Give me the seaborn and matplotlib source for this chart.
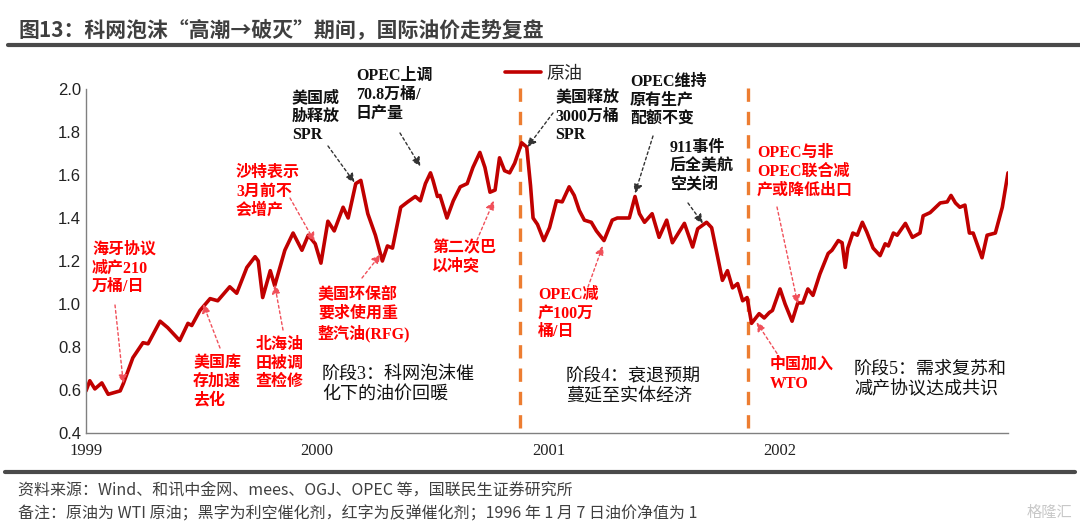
import pandas as pd
import numpy as np
import seaborn as sns
import matplotlib.pyplot as plt
import matplotlib.dates as mdates
from matplotlib.lines import Line2D

# WTI 原油净值 (1996-01-07 = 1)
dates = ["1999-01-01", "1999-01-07", "1999-01-15", "1999-01-26", "1999-02-05", "1999-02-24",
         "1999-03-01", "1999-03-16", "1999-04-01", "1999-04-09", "1999-04-28", "1999-05-10",
         "1999-05-29", "1999-06-11", "1999-06-17", "1999-06-30", "1999-07-16", "1999-07-28",
         "1999-08-16", "1999-08-27", "1999-09-12", "1999-09-25", "1999-09-30", "1999-10-07",
         "1999-10-19", "1999-10-26", "1999-11-11", "1999-11-24", "1999-12-08", "1999-12-18",
         "1999-12-29",
         "2000-01-07", "2000-01-18", "2000-01-28", "2000-02-11", "2000-02-19", "2000-03-02",
         "2000-03-10", "2000-03-21", "2000-04-02", "2000-04-13", "2000-04-21", "2000-04-29",
         "2000-05-12", "2000-05-23", "2000-06-04", "2000-06-12", "2000-06-20", "2000-06-28",
         "2000-07-02", "2000-07-09", "2000-07-13", "2000-07-24", "2000-08-03", "2000-08-14",
         "2000-08-25", "2000-09-03", "2000-09-14", "2000-09-22", "2000-09-30", "2000-10-08",
         "2000-10-15", "2000-10-23", "2000-10-31", "2000-11-08", "2000-11-19", "2000-11-27",
         "2000-12-03", "2000-12-07", "2000-12-14", "2000-12-24",
         "2001-01-02", "2001-01-13", "2001-01-22", "2001-02-02", "2001-02-10", "2001-02-18",
         "2001-02-26", "2001-03-09", "2001-03-17", "2001-03-29", "2001-04-11", "2001-04-19",
         "2001-05-08", "2001-05-17", "2001-05-24", "2001-06-01", "2001-06-13", "2001-06-24",
         "2001-07-06", "2001-07-15", "2001-08-03", "2001-08-16", "2001-08-24", "2001-09-07",
         "2001-09-15", "2001-10-02", "2001-10-10", "2001-10-18", "2001-10-26", "2001-11-03",
         "2001-11-10", "2001-11-17", "2001-11-29", "2001-12-07", "2001-12-15", "2001-12-20",
         "2002-01-01", "2002-01-09", "2002-01-20", "2002-01-29", "2002-02-06", "2002-02-14",
         "2002-02-22", "2002-03-05", "2002-03-18", "2002-03-24", "2002-04-03", "2002-04-09",
         "2002-04-14", "2002-04-18", "2002-04-26", "2002-05-03", "2002-05-11", "2002-05-18",
         "2002-05-28", "2002-06-08", "2002-06-16", "2002-06-21", "2002-06-29", "2002-07-05",
         "2002-07-18", "2002-07-29", "2002-08-10", "2002-08-15", "2002-08-26", "2002-09-11",
         "2002-09-22", "2002-09-28", "2002-10-05", "2002-10-12", "2002-10-20", "2002-10-27",
         "2002-11-02", "2002-11-16", "2002-11-24", "2002-12-07", "2002-12-18", "2002-12-27"]
values = [0.596, 0.643, 0.605, 0.633, 0.58, 0.596,
          0.63, 0.75, 0.82, 0.815, 0.92, 0.89,
          0.83, 0.91, 0.90, 0.97, 1.025, 1.015,
          1.08, 1.05, 1.17, 1.22, 1.20, 1.03,
          1.155, 1.085, 1.25, 1.33, 1.25, 1.32,
          1.28,
          1.19, 1.385, 1.34, 1.45, 1.40, 1.56,
          1.575, 1.42, 1.32, 1.20, 1.27, 1.26,
          1.45, 1.475, 1.50, 1.48, 1.56, 1.61,
          1.575, 1.50, 1.505, 1.40, 1.48, 1.545,
          1.56, 1.635, 1.705, 1.635, 1.52, 1.53,
          1.68, 1.62, 1.61, 1.655, 1.75, 1.73,
          1.55, 1.40, 1.37, 1.295,
          1.355, 1.48, 1.475, 1.545, 1.505, 1.435,
          1.39, 1.38, 1.34, 1.295, 1.39, 1.40,
          1.40, 1.50, 1.42, 1.38, 1.42, 1.31,
          1.39, 1.285, 1.375, 1.265, 1.35, 1.38,
          1.355, 1.11, 1.155, 1.075, 1.095, 1.015,
          1.03, 0.91, 0.955, 0.935, 0.96, 0.97,
          1.07, 1.00, 0.92, 1.005, 1.005, 1.07,
          1.04, 1.14, 1.235, 1.25, 1.295, 1.285,
          1.17, 1.26, 1.33, 1.32, 1.38, 1.335,
          1.26, 1.225, 1.28, 1.27, 1.33, 1.32,
          1.375, 1.31, 1.33, 1.41, 1.425, 1.47,
          1.475, 1.505, 1.47, 1.45, 1.46, 1.33,
          1.33, 1.215, 1.32, 1.33, 1.45, 1.61]

year_ticks = ["1999-01-01", "2000-01-01", "2001-01-01", "2002-01-01"]
year_labels = ["1999", "2000", "2001", "2002"]
phase_breaks = ["2000-11-17", "2001-11-12"]

# events: text, colour kind, target date, target value
event_texts = ["美国威\n胁释放\nSPR", "OPEC上调\n70.8万桶/\n日产量", "美国释放\n3000万桶\nSPR",
               "OPEC维持\n原有生产\n配额不变", "911事件\n后全美航\n空关闭",
               "海牙协议\n减产210\n万桶/日", "美国库\n存加速\n去化", "北海油\n田被调\n查检修",
               "沙特表示\n3月前不\n会增产", "美国环保部\n要求使用重\n整汽油(RFG)", "第二次巴\n以冲突",
               "OPEC减\n产100万\n桶/日", "中国加入\nWTO", "OPEC与非\nOPEC联合减\n产或降低出口"]
event_kind = ["bear"] * 5 + ["bull"] * 9
event_dates = ["2000-02-29", "2000-06-12", "2000-11-28", "2001-05-17", "2001-09-01",
               "1999-03-01", "1999-07-05", "1999-10-26", "1999-12-28", "2000-04-10", "2000-10-06",
               "2001-03-27", "2001-11-25", "2002-01-29"]
event_values = [1.565, 1.64, 1.73, 1.515, 1.375,
                0.63, 1.0, 1.09, 1.29, 1.23, 1.48,
                1.27, 0.915, 1.0]

stage_texts = ["阶段3：科网泡沫催\n化下的油价回暖", "阶段4：衰退预期\n蔓延至实体经济",
               "阶段5：需求复苏和\n减产协议达成共识"]

# layout (pixels in the 1080x527 canvas): text left/top-line centre, arrow start
event_text_px = [(292, 100), (356, 78), (555, 100), (630, 84), (670, 150),
                 (92, 252), (193, 365), (256, 347), (236, 175), (318, 297), (432, 250),
                 (538, 297), (770, 367), (757, 155)]
event_start_px = [(328, 146), (400, 133), (553, 113), (653, 136), (688, 203),
                  (115, 305), (220, 348), (283, 330), (290, 198), (362, 278), (477, 240),
                  (588, 287), (780, 358), (777, 207)]
stage_px = [(322, 377), (566, 379), (854, 372)]

W, H = 1080, 527
RED = "#C00000"
CJK_SERIF = ["Liberation Serif", "Noto Sans CJK SC"]

sns.set_style("white")
plt.rcParams["font.family"] = ["Noto Sans CJK SC", "DejaVu Sans"]

df = pd.DataFrame({"date": pd.to_datetime(dates), "value": values})

fig = plt.figure(figsize=(W / 100, H / 100), dpi=100)
ax = fig.add_axes([86 / W, 94 / H, (1008 - 86) / W, (433 - 89) / H])

sns.lineplot(data=df, x="date", y="value", color=RED, linewidth=2.6, ax=ax,
             label="原油", legend=False)
ax.lines[0].set_solid_joinstyle("round")

for d in phase_breaks:
    ax.axvline(pd.Timestamp(d), ymin=0.015, ymax=1.02, color="#ED7D31", lw=2.4,
               ls=(0, (4, 3)), clip_on=False, zorder=1)

ax.set_xlim(df["date"].min(), df["date"].max())
ax.set_ylim(0.4, 2.0)
ax.set_yticks(np.arange(0.4, 2.01, 0.2))
ax.set_yticklabels([f"{v:.1f}" for v in np.arange(0.4, 2.01, 0.2)], fontsize=12,
                   family="Liberation Sans", color="#222222")
ax.set_xticks(pd.to_datetime(year_ticks))
ax.set_xticklabels(year_labels, fontsize=12, family="Liberation Serif", color="#222222")
ax.tick_params(axis="both", direction="in", length=4, color="#808080", width=1)
ax.tick_params(axis="x", pad=7)
ax.set_xlabel("")
ax.set_ylabel("")
for side in ["top", "right"]:
    ax.spines[side].set_visible(False)
for side in ["left", "bottom"]:
    ax.spines[side].set_color("#808080")
    ax.spines[side].set_linewidth(1)

# legend
leg = ax.legend(handles=[Line2D([], [], color=RED, lw=2.6)], labels=["原油"],
                loc="center left", bbox_to_anchor=(505 / W, 1 - 74 / H),
                bbox_transform=fig.transFigure, frameon=False, borderpad=0,
                borderaxespad=0, handlelength=2.0, handletextpad=0.3,
                prop={"family": CJK_SERIF, "size": 13})

# event annotations
for txt, kind, d, v, (tx, ty), (sx, sy) in zip(event_texts, event_kind, event_dates,
                                               event_values, event_text_px, event_start_px):
    col = "#111111" if kind == "bear" else "#FF0000"
    acol = "#333333" if kind == "bear" else "#F0505A"
    fig.text(tx / W, 1 - (ty - 10) / H, txt, ha="left", va="top", color=col,
             fontsize=11.5, fontweight="bold", family=CJK_SERIF, linespacing=1.22)
    ax.annotate("", xy=(mdates.date2num(pd.Timestamp(d)), v), xycoords="data",
                xytext=(sx, H - sy), textcoords="figure pixels",
                arrowprops=dict(arrowstyle="-|>", color=acol, lw=1, ls=(0, (2, 2)),
                                mutation_scale=13, shrinkA=0, shrinkB=0))

for txt, (tx, ty) in zip(stage_texts, stage_px):
    fig.text(tx / W, 1 - (ty - 11) / H, txt, ha="left", va="top", color="#111111",
             fontsize=13, family=CJK_SERIF, linespacing=1.22)

# title and footer
fig.text(18 / W, 1 - 31 / H, "图13：科网泡沫“高潮→破灭”期间，国际油价走势复盘",
         ha="left", va="center", fontsize=15, fontweight="bold", color="#3F3F3F")
fig.add_artist(Line2D([8 / W, 1.0], [1 - 45 / H, 1 - 45 / H], color="#4A4A4A", lw=3))
fig.add_artist(Line2D([5 / W, 1075 / W], [1 - 472 / H, 1 - 472 / H], color="#4A4A4A", lw=3))
fig.text(18 / W, 1 - 491 / H, "资料来源：Wind、和讯中金网、mees、OGJ、OPEC 等，国联民生证券研究所",
         ha="left", va="center", fontsize=11.5, color="#404040")
fig.text(18 / W, 1 - 514 / H, "备注：原油为 WTI 原油；黑字为利空催化剂，红字为反弹催化剂；1996 年 1 月 7 日油价净值为 1",
         ha="left", va="center", fontsize=11.5, color="#404040")
fig.text(1072 / W, 1 - 512 / H, "格隆汇", ha="right", va="center", fontsize=11,
         color="#C8C8C8")

fig.savefig("out.png", dpi=100)
